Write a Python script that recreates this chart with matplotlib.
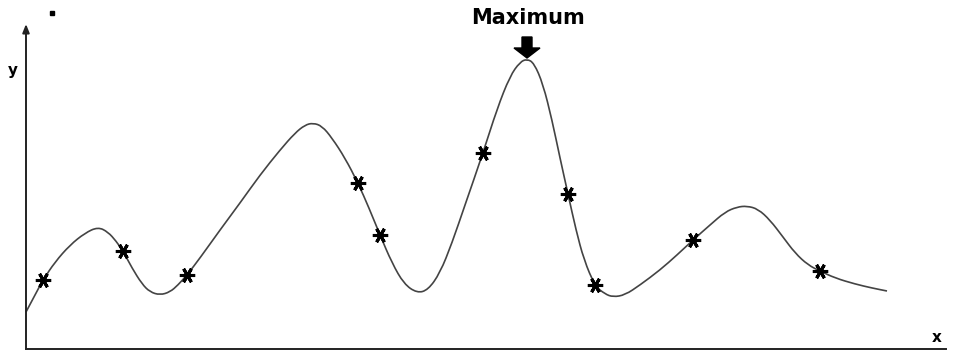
import numpy as np
import matplotlib.pyplot as plt
from matplotlib.path import Path
from matplotlib.patches import PathPatch

# curve (x, y in chart units, origin at the axes corner)
curve_x = [0, 9, 17, 29, 44, 59, 72, 82, 90, 97, 106, 116, 124, 134, 144, 152, 161,
           174, 194, 214, 234, 254, 269, 279, 287, 296, 306, 319, 332, 343, 354, 366,
           378, 391, 402, 414, 426, 439, 457, 471, 484, 494, 501, 508, 517, 526, 534,
           542, 550, 558, 569, 579, 587, 599, 614, 634, 651, 667, 684, 699, 711, 721,
           732, 744, 757, 769, 782, 794, 809, 829, 846, 861]
curve_y = [37, 54, 69, 87, 104, 116, 122, 117, 108, 98, 81, 65, 57, 54, 57, 64, 74,
           91, 119, 146, 174, 199, 216, 224, 226, 223, 211, 191, 166, 141, 114, 86,
           65, 56, 59, 76, 106, 144, 196, 240, 273, 287, 290, 286, 265, 229, 191,
           155, 119, 89, 63, 55, 52, 54, 64, 79, 94, 109, 124, 137, 142, 143,
           140, 129, 112, 96, 84, 78, 71, 65, 61, 58]

# sampled points marked with stars
star_x = [17, 97, 161, 332, 354, 457, 542, 569, 667, 794]
star_y = [69, 98, 74, 166, 114, 196, 155, 64, 109, 78]

peak_x = 501

fig = plt.figure(figsize=(9.54, 3.51), dpi=100)
ax = fig.add_axes([0, 0, 1, 1])
ax.set_xlim(-26, 928)
ax.set_ylim(-2, 349)
ax.axis('off')

# axes with arrow heads
ax.annotate('', xy=(0, 325), xytext=(0, 0),
            arrowprops=dict(arrowstyle='-|>,head_length=0.5,head_width=0.2',
                            color='#222222', lw=1.4, shrinkA=0, shrinkB=0))
ax.plot([0, 920], [0, 0], color='#222222', lw=1.4)

# draw the traced curve as a smooth quadratic spline path
pts = np.column_stack([curve_x, curve_y]).astype(float)
mids = (pts[:-1] + pts[1:]) / 2
verts = [pts[0], mids[0]]
codes = [Path.MOVETO, Path.LINETO]
for i in range(1, len(pts) - 1):
    verts += [pts[i], mids[i]]
    codes += [Path.CURVE3, Path.CURVE3]
verts.append(pts[-1])
codes.append(Path.LINETO)
ax.add_patch(PathPatch(Path(verts, codes), fill=False, edgecolor='#444444', lw=1.2))

ax.plot(star_x, star_y, ls='none', marker=(6, 2, 90), ms=11, mew=2.2, color='black')

ax.arrow(peak_x, 312, 0, -21, width=10, head_width=26, head_length=10,
         length_includes_head=True, color='black')
ax.text(peak_x + 1, 331, 'Maximum', ha='center', va='center',
        fontsize=15, fontweight='bold', family='DejaVu Sans')

ax.text(-13, 279, 'y', ha='center', va='center', fontsize=11, fontweight='bold')
ax.text(911, 11, 'x', ha='center', va='center', fontsize=11, fontweight='bold')
ax.plot([26], [336], marker='s', ms=3, color='black')

fig.savefig('out.png', dpi=100)
